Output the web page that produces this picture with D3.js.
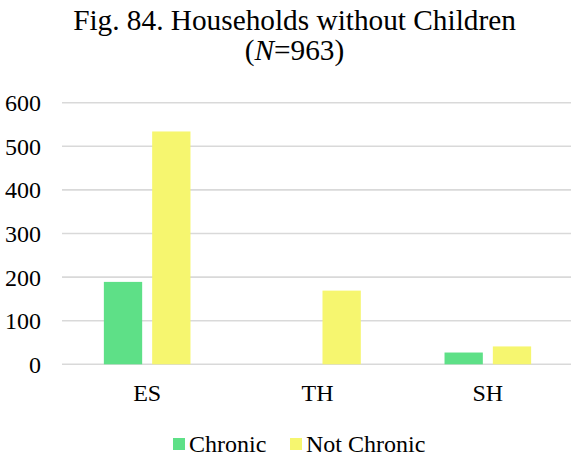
<!DOCTYPE html>
<html><head><meta charset="utf-8">
<script src="https://cdn.jsdelivr.net/npm/d3@7"></script>
<style>body{margin:0;background:#fff}svg{display:block}</style>
</head><body>
<svg id="c" width="571" height="459" font-family="'Liberation Serif', 'Times New Roman', Times, 'DejaVu Serif', serif"></svg>
<script>
const categories = ["ES", "TH", "SH"];
const seriesNames = ["Chronic", "Not Chronic"];
const chronic = [189, 0, 27];
const notChronic = [534, 169, 41];
const yTicks = [0, 100, 200, 300, 400, 500, 600];
const colors = ["#5ee087", "#f6f66f"];

const svg = d3.select("#c");
const x0 = d3.scaleBand().domain(categories).range([62, 573]).paddingInner(0).paddingOuter(0);
const x1 = d3.scaleBand().domain(seriesNames).range([0, x0.bandwidth()]).paddingInner(0.207).paddingOuter(0.8665);
const y = d3.scaleLinear().domain([0, 600]).range([364.3, 102.7]);

// gridlines
svg.append("g").selectAll("line").data(yTicks).join("line")
  .attr("x1", 62).attr("x2", 571)
  .attr("y1", d => y(d)).attr("y2", d => y(d))
  .attr("stroke", "#d9d9d9").attr("stroke-width", 1.6);

// y labels
svg.append("g").selectAll("text").data(yTicks).join("text")
  .attr("x", 41).attr("y", d => y(d)).attr("dy", "0.35em")
  .attr("text-anchor", "end").attr("font-size", 24).attr("fill", "#000").text(d => d);

// bars
const series = [chronic, notChronic];
series.forEach((vals, si) => {
  svg.append("g").selectAll("rect").data(categories).join("rect")
    .attr("x", c => x0(c) + x1(seriesNames[si]))
    .attr("width", x1.bandwidth())
    .attr("y", (c, i) => y(vals[i]))
    .attr("height", (c, i) => y(0) - y(vals[i]))
    .attr("fill", colors[si]);
});

// x labels
svg.append("g").selectAll("text").data(categories).join("text")
  .attr("x", c => x0(c) + x0.bandwidth() / 2).attr("y", 401)
  .attr("text-anchor", "middle").attr("font-size", 24).attr("fill", "#000").text(c => c);

// title
const t = svg.append("text").attr("text-anchor", "middle").attr("font-size", 29.3).attr("fill", "#000");
t.append("tspan").attr("x", 294.5).attr("y", 30).text("Fig. 84. Households without Children");
const t2 = t.append("tspan").attr("x", 294.5).attr("y", 60);
t2.append("tspan").text("(");
t2.append("tspan").attr("font-style", "italic").text("N");
t2.append("tspan").text("=963)");

// legend
const legX = [173, 290];
seriesNames.forEach((s, i) => {
  svg.append("rect").attr("x", legX[i]).attr("y", 438).attr("width", 12).attr("height", 12).attr("fill", colors[i]);
  svg.append("text").attr("x", legX[i] + 16).attr("y", 452).attr("font-size", 24).attr("fill", "#000").text(s);
});
</script>
</body></html>
